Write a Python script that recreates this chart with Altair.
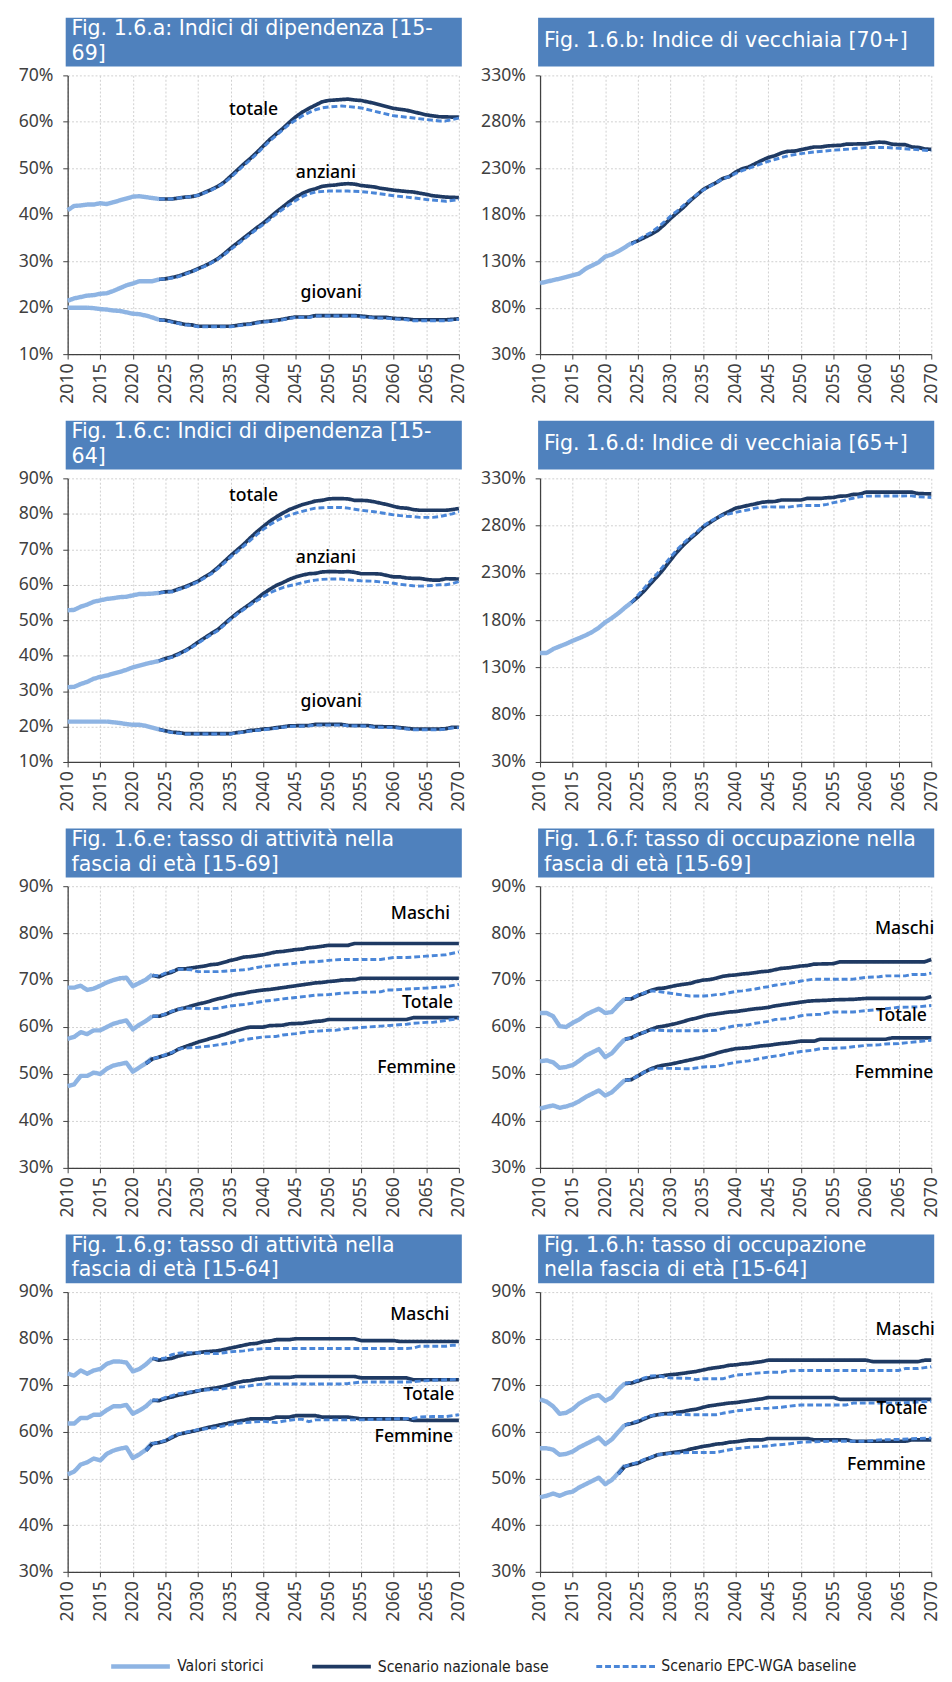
import altair as alt
import pandas as pd

# ---------------------------------------------------------------- constants
SERIES = ["Valori storici", "Scenario nazionale base", "Scenario EPC-WGA baseline"]
COLORS = ["#8EB4E3", "#1F3A63", "#4A86D8"]
WIDTHS = [4.5, 3.0, 2.0]
DASHES = [[1, 0], [1, 0], [6, 3]]
X_TICKS = list(range(2010, 2071, 5))

# ---------------------------------------------------------------- panel a
A_TOT_HIST = [(2010, 41.0), (2011, 41.9), (2012, 42.0), (2013, 42.2), (2014, 42.2), (2015, 42.5), (2016, 42.3), (2017, 42.7), (2018, 43.1), (2019, 43.5), (2020, 43.9), (2021, 44.0), (2022, 43.8), (2023, 43.6), (2024, 43.4)]
A_TOT_NAT = [(2024, 43.4), (2025, 43.4), (2026, 43.4), (2027, 43.6), (2028, 43.8), (2029, 43.9), (2030, 44.2), (2031, 44.8), (2032, 45.4), (2033, 46.1), (2034, 47.0), (2035, 48.3), (2036, 49.6), (2037, 50.9), (2038, 52.1), (2039, 53.4), (2040, 54.8), (2041, 56.2), (2042, 57.4), (2043, 58.6), (2044, 59.9), (2045, 61.1), (2046, 62.1), (2047, 62.9), (2048, 63.6), (2049, 64.3), (2050, 64.6), (2051, 64.7), (2052, 64.8), (2053, 64.9), (2054, 64.7), (2055, 64.6), (2057, 64.0), (2060, 62.9), (2062, 62.5), (2065, 61.5), (2067, 61.1), (2070, 61.0)]
A_TOT_EPC = [(2024, 43.4), (2025, 43.4), (2026, 43.4), (2027, 43.6), (2028, 43.8), (2029, 43.9), (2030, 44.2), (2031, 44.7), (2032, 45.3), (2033, 46.0), (2034, 46.8), (2035, 48.0), (2036, 49.3), (2037, 50.6), (2038, 51.8), (2039, 53.1), (2040, 54.5), (2041, 55.9), (2042, 57.1), (2043, 58.3), (2044, 59.5), (2045, 60.4), (2046, 61.3), (2047, 62.0), (2048, 62.6), (2049, 63.0), (2050, 63.2), (2052, 63.4), (2053, 63.3), (2055, 63.0), (2057, 62.3), (2060, 61.3), (2062, 61.0), (2065, 60.5), (2067, 60.2), (2068, 60.2), (2070, 60.8)]
A_ANZ_HIST = [(2010, 21.5), (2011, 22.0), (2012, 22.3), (2013, 22.6), (2014, 22.7), (2015, 23.0), (2016, 23.1), (2017, 23.6), (2018, 24.2), (2019, 24.8), (2020, 25.2), (2021, 25.7), (2022, 25.7), (2023, 25.7), (2024, 26.1)]
A_ANZ_NAT = [(2024, 26.1), (2025, 26.2), (2026, 26.5), (2027, 26.8), (2028, 27.3), (2029, 27.8), (2030, 28.4), (2031, 29.0), (2032, 29.7), (2033, 30.5), (2034, 31.6), (2035, 32.8), (2036, 33.9), (2037, 35.0), (2038, 36.1), (2039, 37.2), (2040, 38.2), (2041, 39.4), (2042, 40.6), (2043, 41.7), (2044, 42.8), (2045, 43.8), (2046, 44.6), (2047, 45.2), (2048, 45.6), (2049, 46.1), (2050, 46.3), (2051, 46.4), (2052, 46.6), (2053, 46.7), (2054, 46.6), (2055, 46.3), (2057, 46.0), (2058, 45.7), (2060, 45.3), (2062, 45.0), (2063, 44.9), (2065, 44.4), (2066, 44.1), (2068, 43.8), (2070, 43.7)]
A_ANZ_EPC = [(2024, 26.1), (2025, 26.2), (2026, 26.4), (2027, 26.7), (2028, 27.2), (2029, 27.7), (2030, 28.3), (2031, 28.9), (2032, 29.6), (2033, 30.4), (2034, 31.4), (2035, 32.5), (2036, 33.6), (2037, 34.7), (2038, 35.8), (2039, 36.9), (2040, 37.9), (2041, 39.0), (2042, 40.2), (2043, 41.2), (2044, 42.2), (2045, 43.1), (2046, 43.9), (2047, 44.5), (2048, 44.9), (2050, 45.1), (2053, 45.1), (2055, 45.0), (2057, 44.7), (2060, 44.1), (2062, 43.8), (2065, 43.3), (2068, 42.9), (2070, 43.3)]
A_GIO_HIST = [(2010, 20.0), (2011, 20.0), (2012, 20.0), (2013, 20.0), (2014, 19.9), (2015, 19.7), (2016, 19.6), (2017, 19.4), (2018, 19.3), (2019, 19.0), (2020, 18.7), (2021, 18.6), (2022, 18.3), (2023, 17.9), (2024, 17.4)]
A_GIO_NAT = [(2024, 17.4), (2025, 17.3), (2026, 17.0), (2027, 16.7), (2028, 16.4), (2029, 16.3), (2030, 16.0), (2035, 16.0), (2036, 16.2), (2037, 16.4), (2038, 16.5), (2039, 16.8), (2040, 17.0), (2041, 17.1), (2042, 17.3), (2043, 17.5), (2044, 17.8), (2045, 18.0), (2047, 18.0), (2048, 18.3), (2054, 18.3), (2055, 18.2), (2057, 17.9), (2059, 17.9), (2060, 17.7), (2062, 17.6), (2063, 17.4), (2068, 17.4), (2070, 17.6)]
A_GIO_EPC = [(2024, 17.4), (2025, 17.2), (2026, 16.9), (2027, 16.6), (2028, 16.3), (2029, 16.2), (2030, 15.9), (2035, 15.9), (2036, 16.1), (2037, 16.3), (2038, 16.4), (2039, 16.7), (2040, 16.9), (2041, 17.0), (2042, 17.2), (2043, 17.4), (2044, 17.7), (2045, 17.9), (2047, 17.9), (2048, 18.2), (2054, 18.2), (2055, 18.0), (2057, 17.8), (2059, 17.7), (2060, 17.6), (2062, 17.4), (2063, 17.2), (2068, 17.2), (2070, 17.5)]

# ---------------------------------------------------------------- panel b
B_HIST = [(2010, 106.4), (2011, 108.0), (2012, 109.6), (2013, 111.2), (2014, 113.0), (2015, 114.8), (2016, 116.7), (2017, 122.0), (2018, 125.5), (2019, 129.0), (2020, 135.0), (2021, 137.2), (2022, 140.8), (2023, 145.0), (2024, 149.3)]
B_NAT = [(2024, 149.3), (2025, 152.0), (2026, 155.5), (2027, 159.0), (2028, 163.0), (2029, 169.0), (2030, 176.0), (2031, 182.0), (2032, 188.0), (2033, 195.0), (2034, 201.0), (2035, 207.0), (2036, 211.0), (2037, 214.5), (2038, 219.0), (2039, 221.0), (2040, 226.0), (2041, 229.5), (2042, 231.5), (2043, 235.0), (2044, 238.5), (2045, 241.6), (2046, 243.5), (2047, 246.5), (2048, 248.3), (2049, 248.5), (2050, 250.0), (2051, 251.5), (2052, 252.9), (2053, 252.9), (2054, 254.0), (2055, 254.5), (2056, 254.7), (2057, 256.0), (2060, 256.4), (2061, 257.5), (2062, 258.2), (2063, 257.8), (2064, 256.0), (2065, 255.5), (2066, 255.5), (2067, 253.0), (2068, 252.5), (2069, 250.8), (2070, 250.4)]
B_EPC = [(2024, 148.0), (2025, 153.0), (2026, 157.0), (2027, 161.0), (2028, 166.0), (2029, 172.0), (2030, 178.5), (2031, 184.0), (2032, 190.0), (2033, 196.0), (2034, 201.5), (2035, 206.5), (2036, 210.5), (2037, 214.5), (2038, 218.5), (2039, 221.0), (2040, 224.5), (2041, 227.5), (2042, 230.0), (2043, 232.5), (2044, 235.0), (2045, 237.5), (2046, 239.5), (2047, 241.5), (2048, 243.5), (2050, 245.8), (2052, 247.5), (2055, 249.5), (2058, 251.0), (2060, 252.5), (2063, 252.5), (2065, 251.5), (2067, 250.5), (2070, 248.8)]

# ---------------------------------------------------------------- panel c
C_TOT_HIST = [(2010, 52.8), (2011, 52.9), (2012, 53.8), (2013, 54.4), (2014, 55.2), (2015, 55.6), (2016, 56.0), (2017, 56.2), (2018, 56.5), (2019, 56.6), (2020, 57.0), (2021, 57.4), (2022, 57.4), (2023, 57.5), (2024, 57.7)]
C_TOT_NAT = [(2024, 57.7), (2025, 58.0), (2026, 58.1), (2027, 58.8), (2028, 59.4), (2029, 60.2), (2030, 61.0), (2031, 62.2), (2032, 63.3), (2033, 64.8), (2034, 66.5), (2035, 68.2), (2036, 69.8), (2037, 71.4), (2038, 73.2), (2039, 74.9), (2040, 76.4), (2041, 77.9), (2042, 79.1), (2043, 80.2), (2044, 81.2), (2045, 81.9), (2046, 82.6), (2047, 83.1), (2048, 83.6), (2049, 83.8), (2050, 84.2), (2051, 84.3), (2052, 84.3), (2053, 84.2), (2054, 83.8), (2055, 83.8), (2056, 83.7), (2057, 83.4), (2058, 83.0), (2059, 82.6), (2060, 82.1), (2061, 81.7), (2062, 81.6), (2063, 81.2), (2064, 81.0), (2068, 81.0), (2069, 81.2), (2070, 81.5)]
C_TOT_EPC = [(2024, 57.7), (2025, 57.9), (2026, 58.0), (2027, 58.6), (2028, 59.2), (2029, 60.0), (2030, 60.8), (2031, 61.9), (2032, 63.0), (2033, 64.5), (2034, 66.1), (2035, 67.8), (2036, 69.3), (2037, 70.9), (2038, 72.5), (2039, 74.1), (2040, 75.6), (2041, 76.9), (2042, 78.0), (2043, 78.9), (2044, 79.6), (2045, 80.2), (2046, 80.7), (2047, 81.2), (2048, 81.6), (2049, 81.7), (2050, 81.8), (2052, 81.8), (2053, 81.6), (2054, 81.3), (2055, 81.0), (2056, 80.8), (2057, 80.6), (2058, 80.3), (2059, 80.0), (2060, 79.7), (2061, 79.5), (2062, 79.3), (2063, 79.2), (2064, 79.0), (2066, 79.0), (2067, 79.2), (2068, 79.6), (2069, 80.0), (2070, 80.6)]
C_ANZ_HIST = [(2010, 31.1), (2011, 31.2), (2012, 32.0), (2013, 32.6), (2014, 33.5), (2015, 34.0), (2016, 34.4), (2017, 34.9), (2018, 35.4), (2019, 36.0), (2020, 36.7), (2021, 37.2), (2022, 37.7), (2023, 38.1), (2024, 38.5)]
C_ANZ_NAT = [(2024, 38.5), (2025, 39.2), (2026, 39.7), (2027, 40.5), (2028, 41.4), (2029, 42.5), (2030, 43.8), (2031, 45.0), (2032, 46.2), (2033, 47.3), (2034, 48.9), (2035, 50.5), (2036, 52.0), (2037, 53.3), (2038, 54.6), (2039, 56.0), (2040, 57.5), (2041, 58.7), (2042, 59.8), (2043, 60.6), (2044, 61.5), (2045, 62.2), (2046, 62.7), (2047, 63.1), (2048, 63.2), (2049, 63.6), (2050, 63.7), (2051, 63.7), (2052, 63.6), (2053, 63.7), (2054, 63.5), (2055, 63.1), (2057, 63.1), (2058, 63.0), (2059, 62.6), (2060, 62.2), (2061, 62.2), (2062, 61.9), (2063, 61.8), (2064, 61.8), (2065, 61.5), (2066, 61.3), (2067, 61.3), (2068, 61.7), (2070, 61.6)]
C_ANZ_EPC = [(2024, 38.5), (2025, 39.0), (2026, 39.5), (2027, 40.3), (2028, 41.2), (2029, 42.3), (2030, 43.5), (2031, 44.7), (2032, 45.9), (2033, 47.0), (2034, 48.6), (2035, 50.2), (2036, 51.7), (2037, 53.0), (2038, 54.3), (2039, 55.5), (2040, 56.6), (2041, 57.7), (2042, 58.5), (2043, 59.2), (2044, 59.7), (2045, 60.1), (2046, 60.6), (2047, 61.0), (2048, 61.3), (2049, 61.5), (2050, 61.6), (2052, 61.6), (2053, 61.4), (2054, 61.2), (2055, 61.1), (2057, 61.0), (2058, 60.8), (2059, 60.6), (2060, 60.4), (2061, 60.1), (2062, 59.9), (2063, 59.7), (2064, 59.6), (2065, 59.7), (2066, 59.8), (2067, 60.0), (2068, 60.0), (2069, 60.3), (2070, 60.9)]
C_GIO_HIST = [(2010, 21.4), (2011, 21.4), (2012, 21.4), (2013, 21.4), (2014, 21.4), (2015, 21.4), (2016, 21.4), (2017, 21.2), (2018, 21.0), (2019, 20.7), (2020, 20.5), (2021, 20.5), (2022, 20.2), (2023, 19.7), (2024, 19.2)]
C_GIO_NAT = [(2024, 19.2), (2025, 18.8), (2026, 18.4), (2027, 18.3), (2028, 18.0), (2035, 18.0), (2036, 18.3), (2037, 18.5), (2038, 18.9), (2039, 19.0), (2040, 19.3), (2041, 19.4), (2042, 19.7), (2043, 19.9), (2044, 20.2), (2047, 20.3), (2048, 20.6), (2052, 20.6), (2053, 20.3), (2056, 20.3), (2057, 20.0), (2060, 19.9), (2061, 19.7), (2062, 19.5), (2063, 19.3), (2067, 19.3), (2068, 19.4), (2069, 19.8), (2070, 19.8)]
C_GIO_EPC = [(2024, 19.2), (2025, 18.7), (2026, 18.3), (2027, 18.1), (2028, 17.9), (2035, 17.9), (2036, 18.2), (2037, 18.4), (2038, 18.7), (2039, 18.9), (2040, 19.1), (2041, 19.3), (2042, 19.5), (2043, 19.8), (2044, 20.0), (2047, 20.2), (2048, 20.4), (2052, 20.4), (2053, 20.2), (2056, 20.1), (2057, 19.8), (2060, 19.7), (2061, 19.5), (2062, 19.3), (2063, 19.1), (2067, 19.1), (2068, 19.3), (2069, 19.6), (2070, 19.7)]

# ---------------------------------------------------------------- panel d
D_HIST = [(2010, 145.3), (2011, 145.3), (2012, 149.5), (2013, 152.3), (2014, 155.0), (2015, 158.2), (2016, 161.0), (2017, 164.0), (2018, 167.5), (2019, 172.0), (2020, 177.8), (2021, 182.2), (2022, 187.3), (2023, 193.2), (2024, 198.6)]
D_NAT = [(2024, 198.6), (2025, 204.4), (2026, 211.2), (2027, 219.0), (2028, 226.5), (2029, 234.5), (2030, 243.5), (2031, 252.0), (2032, 259.5), (2033, 266.0), (2034, 271.8), (2035, 278.5), (2036, 283.0), (2037, 287.5), (2038, 291.7), (2039, 295.0), (2040, 298.5), (2041, 300.0), (2042, 301.6), (2043, 303.0), (2044, 304.7), (2045, 305.4), (2046, 305.5), (2047, 307.1), (2050, 307.1), (2051, 308.8), (2053, 308.8), (2054, 309.5), (2055, 309.8), (2056, 311.2), (2057, 311.4), (2058, 313.0), (2059, 313.3), (2060, 315.4), (2067, 315.4), (2068, 313.9), (2070, 313.6)]
D_EPC = [(2024, 198.6), (2025, 206.5), (2026, 214.0), (2027, 222.0), (2028, 229.5), (2029, 238.0), (2030, 246.5), (2031, 254.5), (2032, 261.5), (2033, 267.5), (2034, 273.0), (2035, 279.5), (2036, 284.0), (2037, 288.0), (2038, 291.0), (2039, 292.5), (2040, 294.0), (2041, 295.5), (2042, 296.8), (2043, 298.5), (2044, 299.6), (2045, 299.9), (2048, 299.6), (2049, 300.5), (2050, 301.3), (2053, 301.3), (2054, 302.5), (2055, 304.3), (2056, 305.5), (2057, 307.5), (2058, 309.0), (2059, 310.5), (2060, 311.2), (2067, 311.5), (2068, 310.5), (2070, 309.8)]

# ---------------------------------------------------------------- panel e
E_M_HIST = [(2010, 68.4), (2011, 68.4), (2012, 68.8), (2013, 67.9), (2014, 68.2), (2015, 68.8), (2016, 69.5), (2017, 70.0), (2018, 70.4), (2019, 70.5), (2020, 68.7), (2021, 69.4), (2022, 70.1), (2023, 71.2)]
E_M_NAT = [(2023, 71.0), (2024, 70.7), (2025, 71.3), (2026, 71.7), (2027, 72.4), (2028, 72.4), (2029, 72.6), (2030, 72.8), (2031, 73.0), (2032, 73.3), (2033, 73.4), (2034, 73.8), (2035, 74.2), (2036, 74.5), (2037, 74.9), (2038, 75.0), (2039, 75.2), (2040, 75.4), (2041, 75.7), (2042, 76.0), (2043, 76.1), (2044, 76.3), (2045, 76.5), (2046, 76.6), (2047, 76.9), (2048, 77.0), (2049, 77.2), (2050, 77.4), (2053, 77.4), (2054, 77.8), (2070, 77.8)]
E_M_EPC = [(2023, 71.0), (2024, 70.9), (2025, 71.5), (2026, 71.9), (2027, 72.3), (2028, 72.3), (2029, 72.2), (2030, 71.8), (2033, 71.8), (2034, 71.9), (2035, 72.0), (2036, 72.1), (2037, 72.2), (2038, 72.4), (2039, 72.7), (2040, 72.9), (2042, 73.2), (2043, 73.3), (2045, 73.6), (2046, 73.8), (2048, 73.9), (2050, 74.2), (2052, 74.4), (2058, 74.4), (2060, 74.8), (2062, 74.8), (2063, 74.9), (2065, 75.1), (2067, 75.3), (2068, 75.4), (2070, 76.0)]
E_T_HIST = [(2010, 57.5), (2011, 57.9), (2012, 58.9), (2013, 58.5), (2014, 59.3), (2015, 59.3), (2016, 60.0), (2017, 60.7), (2018, 61.1), (2019, 61.4), (2020, 59.5), (2021, 60.5), (2022, 61.3), (2023, 62.3)]
E_T_NAT = [(2023, 62.3), (2024, 62.3), (2025, 62.7), (2026, 63.3), (2027, 63.8), (2028, 64.1), (2029, 64.5), (2030, 64.9), (2031, 65.2), (2032, 65.6), (2033, 66.0), (2034, 66.3), (2035, 66.7), (2036, 67.0), (2037, 67.2), (2038, 67.5), (2039, 67.7), (2040, 67.9), (2041, 68.0), (2042, 68.2), (2043, 68.4), (2044, 68.6), (2045, 68.8), (2046, 69.0), (2047, 69.2), (2048, 69.4), (2049, 69.5), (2050, 69.7), (2051, 69.8), (2052, 70.0), (2054, 70.1), (2055, 70.4), (2070, 70.4)]
E_T_EPC = [(2023, 62.3), (2024, 62.3), (2025, 62.8), (2026, 63.4), (2027, 63.8), (2028, 64.0), (2030, 64.0), (2032, 63.9), (2033, 64.0), (2035, 64.5), (2037, 64.8), (2038, 65.0), (2040, 65.5), (2042, 65.8), (2043, 66.0), (2045, 66.3), (2047, 66.6), (2048, 66.8), (2050, 66.9), (2052, 67.2), (2055, 67.4), (2058, 67.5), (2059, 67.9), (2060, 67.9), (2062, 68.1), (2065, 68.3), (2067, 68.5), (2068, 68.6), (2070, 69.1)]
E_F_HIST = [(2010, 47.4), (2011, 47.8), (2012, 49.6), (2013, 49.6), (2014, 50.3), (2015, 50.0), (2016, 51.1), (2017, 51.8), (2018, 52.1), (2019, 52.4), (2020, 50.5), (2021, 51.4), (2022, 52.3), (2023, 53.4)]
E_F_NAT = [(2022, 52.2), (2023, 53.2), (2024, 53.6), (2025, 54.0), (2026, 54.5), (2027, 55.3), (2028, 55.8), (2029, 56.3), (2030, 56.8), (2031, 57.2), (2032, 57.6), (2033, 58.0), (2034, 58.4), (2035, 58.9), (2036, 59.3), (2037, 59.7), (2038, 60.0), (2040, 60.0), (2041, 60.3), (2043, 60.4), (2044, 60.7), (2046, 60.8), (2047, 61.0), (2048, 61.2), (2049, 61.3), (2050, 61.6), (2062, 61.6), (2063, 62.0), (2070, 62.0)]
E_F_EPC = [(2022, 52.2), (2023, 53.2), (2024, 53.6), (2025, 54.1), (2026, 54.6), (2027, 55.3), (2028, 55.5), (2030, 55.7), (2032, 56.0), (2033, 56.2), (2035, 56.6), (2037, 57.3), (2038, 57.5), (2040, 57.9), (2042, 58.0), (2043, 58.3), (2045, 58.6), (2047, 59.0), (2048, 59.1), (2050, 59.3), (2051, 59.3), (2053, 59.7), (2055, 59.9), (2058, 60.2), (2060, 60.4), (2062, 60.6), (2063, 60.8), (2065, 61.0), (2066, 61.0), (2068, 61.4), (2070, 61.8)]

# ---------------------------------------------------------------- panel f
F_M_HIST = [(2010, 63.0), (2011, 63.0), (2012, 62.3), (2013, 60.2), (2014, 60.0), (2015, 60.9), (2016, 61.6), (2017, 62.6), (2018, 63.3), (2019, 63.9), (2020, 63.0), (2021, 63.2), (2022, 64.7), (2023, 66.0)]
F_M_NAT = [(2023, 66.0), (2024, 66.0), (2025, 66.7), (2026, 67.2), (2027, 67.8), (2028, 68.2), (2029, 68.3), (2030, 68.6), (2031, 68.9), (2032, 69.1), (2033, 69.3), (2034, 69.7), (2035, 70.0), (2036, 70.1), (2037, 70.4), (2038, 70.8), (2039, 71.0), (2040, 71.1), (2041, 71.3), (2042, 71.4), (2043, 71.6), (2044, 71.8), (2045, 71.9), (2046, 72.2), (2047, 72.5), (2048, 72.6), (2049, 72.8), (2050, 73.0), (2051, 73.1), (2052, 73.4), (2055, 73.5), (2056, 73.9), (2069, 73.9), (2070, 74.4)]
F_M_EPC = [(2023, 66.0), (2024, 66.1), (2025, 66.8), (2026, 67.3), (2027, 67.7), (2028, 67.6), (2029, 67.4), (2030, 67.2), (2031, 67.0), (2032, 66.8), (2033, 66.6), (2035, 66.6), (2036, 66.7), (2037, 66.9), (2038, 67.0), (2039, 67.3), (2040, 67.6), (2041, 67.7), (2042, 67.9), (2043, 68.1), (2044, 68.4), (2045, 68.6), (2046, 68.9), (2047, 69.1), (2048, 69.3), (2049, 69.5), (2050, 69.8), (2051, 70.0), (2052, 70.2), (2058, 70.2), (2059, 70.4), (2060, 70.6), (2062, 70.7), (2063, 70.9), (2066, 70.9), (2067, 71.2), (2069, 71.2), (2070, 71.5)]
F_T_HIST = [(2010, 52.7), (2011, 52.9), (2012, 52.5), (2013, 51.3), (2014, 51.5), (2015, 51.9), (2016, 52.8), (2017, 53.9), (2018, 54.6), (2019, 55.3), (2020, 53.6), (2021, 54.4), (2022, 56.0), (2023, 57.4)]
F_T_NAT = [(2023, 57.4), (2024, 57.7), (2025, 58.4), (2026, 58.9), (2027, 59.5), (2028, 60.0), (2029, 60.2), (2030, 60.5), (2031, 60.8), (2032, 61.2), (2033, 61.6), (2034, 61.9), (2035, 62.3), (2036, 62.6), (2037, 62.8), (2038, 63.0), (2039, 63.2), (2040, 63.3), (2041, 63.5), (2042, 63.7), (2043, 63.9), (2044, 64.0), (2045, 64.2), (2046, 64.5), (2047, 64.7), (2048, 64.9), (2049, 65.1), (2050, 65.3), (2051, 65.5), (2052, 65.6), (2054, 65.7), (2055, 65.8), (2058, 65.9), (2060, 66.1), (2069, 66.1), (2070, 66.5)]
F_T_EPC = [(2023, 57.4), (2024, 57.7), (2025, 58.4), (2026, 58.9), (2027, 59.4), (2028, 59.3), (2030, 59.2), (2035, 59.2), (2037, 59.3), (2038, 59.7), (2040, 60.3), (2042, 60.5), (2043, 60.8), (2045, 61.2), (2046, 61.6), (2048, 61.8), (2050, 62.4), (2051, 62.6), (2053, 62.7), (2054, 63.0), (2055, 63.2), (2058, 63.2), (2060, 63.5), (2062, 63.7), (2063, 63.9), (2065, 64.2), (2068, 64.3), (2070, 64.6)]
F_F_HIST = [(2010, 42.6), (2011, 43.0), (2012, 43.3), (2013, 42.8), (2014, 43.1), (2015, 43.5), (2016, 44.2), (2017, 45.1), (2018, 45.8), (2019, 46.5), (2020, 45.4), (2021, 46.1), (2022, 47.4), (2023, 48.7)]
F_F_NAT = [(2023, 48.7), (2024, 48.8), (2025, 49.6), (2026, 50.4), (2027, 51.1), (2028, 51.6), (2029, 51.9), (2030, 52.1), (2031, 52.4), (2032, 52.7), (2033, 53.0), (2034, 53.3), (2035, 53.6), (2036, 54.0), (2037, 54.4), (2038, 54.8), (2039, 55.1), (2040, 55.4), (2041, 55.5), (2042, 55.6), (2043, 55.8), (2044, 56.0), (2045, 56.1), (2046, 56.3), (2047, 56.5), (2048, 56.6), (2049, 56.8), (2050, 57.0), (2052, 57.0), (2053, 57.4), (2063, 57.4), (2064, 57.7), (2070, 57.7)]
F_F_EPC = [(2023, 48.7), (2024, 48.8), (2025, 49.6), (2026, 50.4), (2027, 51.0), (2028, 51.2), (2030, 51.2), (2033, 51.1), (2035, 51.5), (2037, 51.6), (2038, 51.9), (2040, 52.5), (2042, 52.8), (2043, 53.1), (2045, 53.6), (2047, 54.0), (2048, 54.3), (2050, 54.8), (2052, 55.1), (2053, 55.4), (2055, 55.5), (2057, 55.6), (2058, 55.8), (2060, 56.1), (2062, 56.2), (2063, 56.4), (2065, 56.5), (2068, 56.9), (2070, 57.2)]

# ---------------------------------------------------------------- panel g
G_M_HIST = [(2010, 72.5), (2011, 72.1), (2012, 73.2), (2013, 72.5), (2014, 73.2), (2015, 73.5), (2016, 74.6), (2017, 75.1), (2018, 75.1), (2019, 74.9), (2020, 73.0), (2021, 73.5), (2022, 74.5), (2023, 75.8)]
G_M_NAT = [(2023, 75.8), (2024, 75.4), (2025, 75.6), (2026, 75.8), (2027, 76.3), (2028, 76.6), (2029, 76.8), (2030, 77.0), (2031, 77.2), (2032, 77.3), (2033, 77.4), (2034, 77.7), (2035, 78.0), (2036, 78.3), (2037, 78.6), (2038, 78.9), (2039, 79.0), (2040, 79.4), (2041, 79.5), (2042, 79.8), (2044, 79.8), (2045, 80.0), (2054, 80.0), (2055, 79.6), (2060, 79.6), (2061, 79.4), (2070, 79.4)]
G_M_EPC = [(2023, 75.8), (2024, 75.6), (2025, 75.9), (2026, 76.6), (2027, 76.9), (2028, 77.0), (2030, 77.0), (2031, 76.9), (2033, 76.8), (2034, 77.0), (2035, 77.2), (2037, 77.4), (2038, 77.6), (2040, 77.9), (2062, 77.9), (2063, 78.0), (2064, 78.4), (2068, 78.4), (2069, 78.6), (2070, 78.6)]
G_T_HIST = [(2010, 61.8), (2011, 61.8), (2012, 63.0), (2013, 63.0), (2014, 63.7), (2015, 63.7), (2016, 64.7), (2017, 65.5), (2018, 65.5), (2019, 65.8), (2020, 63.9), (2021, 64.6), (2022, 65.5), (2023, 66.8)]
G_T_NAT = [(2023, 66.8), (2024, 66.7), (2025, 67.2), (2026, 67.5), (2027, 67.9), (2028, 68.2), (2029, 68.5), (2030, 68.8), (2031, 69.1), (2032, 69.3), (2033, 69.5), (2034, 69.8), (2035, 70.2), (2036, 70.6), (2037, 70.9), (2038, 71.0), (2039, 71.3), (2040, 71.4), (2041, 71.7), (2044, 71.7), (2045, 71.9), (2054, 71.9), (2055, 71.6), (2062, 71.6), (2063, 71.2), (2070, 71.2)]
G_T_EPC = [(2023, 66.8), (2024, 66.9), (2025, 67.4), (2026, 67.8), (2027, 68.2), (2028, 68.4), (2030, 68.9), (2031, 69.0), (2033, 69.1), (2035, 69.5), (2037, 69.7), (2038, 69.9), (2040, 70.3), (2052, 70.3), (2053, 70.4), (2055, 70.7), (2062, 70.7), (2064, 70.9), (2066, 71.1), (2068, 71.2), (2070, 71.3)]
G_F_HIST = [(2010, 50.9), (2011, 51.5), (2012, 53.0), (2013, 53.5), (2014, 54.3), (2015, 53.9), (2016, 55.3), (2017, 56.0), (2018, 56.4), (2019, 56.7), (2020, 54.4), (2021, 55.2), (2022, 56.2), (2023, 57.7)]
G_F_NAT = [(2022, 56.0), (2023, 57.5), (2024, 57.7), (2025, 58.1), (2026, 58.8), (2027, 59.5), (2028, 59.8), (2029, 60.1), (2030, 60.4), (2031, 60.8), (2032, 61.1), (2033, 61.4), (2034, 61.7), (2035, 62.0), (2036, 62.3), (2037, 62.5), (2038, 62.8), (2041, 62.8), (2042, 63.2), (2044, 63.2), (2045, 63.5), (2048, 63.5), (2049, 63.2), (2053, 63.2), (2054, 63.0), (2055, 62.8), (2062, 62.8), (2063, 62.5), (2070, 62.5)]
G_F_EPC = [(2022, 56.0), (2023, 57.5), (2024, 57.8), (2025, 58.2), (2026, 59.0), (2027, 59.6), (2028, 59.9), (2030, 60.5), (2032, 60.8), (2033, 61.0), (2035, 61.6), (2037, 62.0), (2038, 62.1), (2040, 62.3), (2042, 62.0), (2043, 62.3), (2045, 62.7), (2046, 62.7), (2047, 62.2), (2048, 62.6), (2055, 62.6), (2060, 62.8), (2063, 62.9), (2064, 63.2), (2066, 63.3), (2068, 63.3), (2069, 63.5), (2070, 63.7)]

# ---------------------------------------------------------------- panel h
H_M_HIST = [(2010, 67.0), (2011, 66.5), (2012, 65.5), (2013, 63.9), (2014, 64.1), (2015, 64.9), (2016, 66.1), (2017, 66.9), (2018, 67.6), (2019, 67.9), (2020, 66.7), (2021, 67.4), (2022, 69.1), (2023, 70.4)]
H_M_NAT = [(2023, 70.4), (2024, 70.5), (2025, 70.9), (2026, 71.4), (2027, 71.7), (2028, 71.9), (2029, 72.1), (2030, 72.3), (2031, 72.4), (2032, 72.6), (2033, 72.8), (2034, 73.0), (2035, 73.3), (2036, 73.6), (2037, 73.8), (2038, 74.0), (2039, 74.3), (2040, 74.4), (2041, 74.6), (2042, 74.7), (2043, 74.9), (2044, 75.1), (2045, 75.4), (2060, 75.4), (2061, 75.1), (2068, 75.1), (2069, 75.4), (2070, 75.4)]
H_M_EPC = [(2023, 70.4), (2024, 70.6), (2025, 71.1), (2026, 71.6), (2027, 72.0), (2028, 72.1), (2029, 71.8), (2030, 71.6), (2033, 71.5), (2034, 71.2), (2035, 71.4), (2038, 71.4), (2039, 71.8), (2040, 72.2), (2042, 72.4), (2043, 72.6), (2045, 72.8), (2047, 72.8), (2048, 73.1), (2050, 73.2), (2065, 73.2), (2066, 73.6), (2068, 73.6), (2069, 73.8), (2070, 74.0)]
H_T_HIST = [(2010, 56.5), (2011, 56.5), (2012, 56.2), (2013, 55.1), (2014, 55.3), (2015, 55.8), (2016, 56.7), (2017, 57.4), (2018, 58.1), (2019, 58.8), (2020, 57.4), (2021, 58.4), (2022, 60.0), (2023, 61.5)]
H_T_NAT = [(2023, 61.5), (2024, 61.8), (2025, 62.2), (2026, 62.8), (2027, 63.4), (2028, 63.7), (2029, 63.9), (2030, 64.0), (2031, 64.2), (2032, 64.4), (2033, 64.7), (2034, 64.9), (2035, 65.3), (2036, 65.6), (2037, 65.8), (2038, 66.0), (2039, 66.2), (2040, 66.3), (2041, 66.5), (2042, 66.7), (2043, 66.9), (2044, 67.1), (2045, 67.4), (2055, 67.4), (2056, 67.0), (2070, 67.0)]
H_T_EPC = [(2023, 61.5), (2024, 61.9), (2025, 62.4), (2026, 63.0), (2027, 63.5), (2028, 63.7), (2030, 63.8), (2033, 63.7), (2037, 63.7), (2038, 64.0), (2040, 64.5), (2042, 64.8), (2043, 65.0), (2045, 65.1), (2047, 65.3), (2048, 65.5), (2050, 65.8), (2057, 65.8), (2058, 66.2), (2065, 66.2), (2070, 66.6)]
H_F_HIST = [(2010, 46.0), (2011, 46.3), (2012, 46.8), (2013, 46.3), (2014, 46.9), (2015, 47.2), (2016, 48.1), (2017, 48.8), (2018, 49.5), (2019, 50.2), (2020, 48.8), (2021, 49.7), (2022, 51.2), (2023, 52.8)]
H_F_NAT = [(2022, 51.0), (2023, 52.6), (2024, 53.0), (2025, 53.3), (2026, 54.0), (2027, 54.5), (2028, 55.1), (2029, 55.3), (2030, 55.5), (2031, 55.7), (2032, 55.9), (2033, 56.3), (2034, 56.6), (2035, 56.9), (2036, 57.1), (2037, 57.4), (2038, 57.5), (2039, 57.8), (2040, 57.9), (2041, 58.1), (2042, 58.3), (2044, 58.3), (2045, 58.6), (2051, 58.6), (2052, 58.3), (2057, 58.3), (2058, 58.0), (2066, 58.0), (2067, 58.3), (2070, 58.3)]
H_F_EPC = [(2022, 51.0), (2023, 52.6), (2024, 53.1), (2025, 53.5), (2026, 54.1), (2027, 54.6), (2028, 55.1), (2030, 55.4), (2033, 55.6), (2037, 55.6), (2038, 55.9), (2040, 56.4), (2042, 56.7), (2043, 56.8), (2045, 57.0), (2046, 57.2), (2048, 57.4), (2050, 57.8), (2052, 57.9), (2055, 58.0), (2060, 58.0), (2062, 58.3), (2065, 58.4), (2068, 58.6), (2070, 58.7)]

# ---------------------------------------------------------------- panels
TITLES = {
    "a": "Fig. 1.6.a: Indici di dipendenza [15-\n69]",
    "b": "Fig. 1.6.b: Indice di vecchiaia [70+]",
    "c": "Fig. 1.6.c: Indici di dipendenza [15-\n64]",
    "d": "Fig. 1.6.d: Indice di vecchiaia [65+]",
    "e": "Fig. 1.6.e: tasso di attività nella\nfascia di età [15-69]",
    "f": "Fig. 1.6.f: tasso di occupazione nella\nfascia di età [15-69]",
    "g": "Fig. 1.6.g: tasso di attività nella\nfascia di età [15-64]",
    "h": "Fig. 1.6.h: tasso di occupazione\nnella fascia di età [15-64]",
}
Y_DOMAINS = {"a": (10, 70, 10), "b": (30, 330, 50), "c": (10, 90, 10), "d": (30, 330, 50),
             "e": (30, 90, 10), "f": (30, 90, 10), "g": (30, 90, 10), "h": (30, 90, 10)}
GROUPS = {
    "a": {"totale": (A_TOT_HIST, A_TOT_NAT, A_TOT_EPC), "anziani": (A_ANZ_HIST, A_ANZ_NAT, A_ANZ_EPC), "giovani": (A_GIO_HIST, A_GIO_NAT, A_GIO_EPC)},
    "b": {"totale": (B_HIST, B_NAT, B_EPC)},
    "c": {"totale": (C_TOT_HIST, C_TOT_NAT, C_TOT_EPC), "anziani": (C_ANZ_HIST, C_ANZ_NAT, C_ANZ_EPC), "giovani": (C_GIO_HIST, C_GIO_NAT, C_GIO_EPC)},
    "d": {"totale": (D_HIST, D_NAT, D_EPC)},
    "e": {"M": (E_M_HIST, E_M_NAT, E_M_EPC), "T": (E_T_HIST, E_T_NAT, E_T_EPC), "F": (E_F_HIST, E_F_NAT, E_F_EPC)},
    "f": {"M": (F_M_HIST, F_M_NAT, F_M_EPC), "T": (F_T_HIST, F_T_NAT, F_T_EPC), "F": (F_F_HIST, F_F_NAT, F_F_EPC)},
    "g": {"M": (G_M_HIST, G_M_NAT, G_M_EPC), "T": (G_T_HIST, G_T_NAT, G_T_EPC), "F": (G_F_HIST, G_F_NAT, G_F_EPC)},
    "h": {"M": (H_M_HIST, H_M_NAT, H_M_EPC), "T": (H_T_HIST, H_T_NAT, H_T_EPC), "F": (H_F_HIST, H_F_NAT, H_F_EPC)},
}
LABELS = [
    ("a", "totale", 2038.5, 62.5), ("a", "anziani", 2049.6, 48.9), ("a", "giovani", 2050.4, 23.1),
    ("c", "totale", 2038.5, 85.0), ("c", "anziani", 2049.6, 67.5), ("c", "giovani", 2050.4, 27.0),
    ("e", "Maschi", 2064.1, 84.0), ("e", "Totale", 2065.2, 65.1), ("e", "Femmine", 2063.5, 51.2),
    ("f", "Maschi", 2065.9, 80.9), ("f", "Totale", 2065.4, 62.4), ("f", "Femmine", 2064.3, 50.2),
    ("g", "Maschi", 2064.0, 85.0), ("g", "Totale", 2065.4, 67.9), ("g", "Femmine", 2063.1, 59.0),
    ("h", "Maschi", 2066.0, 81.9), ("h", "Totale", 2065.5, 64.9), ("h", "Femmine", 2063.1, 52.9),
]
ROW_HEIGHTS = {"a": 285, "b": 285, "c": 290, "d": 290, "e": 288, "f": 288, "g": 286, "h": 286}
PANEL_W = 400

# ---------------------------------------------------------------- tables
rows = []
for pk, groups in GROUPS.items():
    for gname, triple in groups.items():
        for sname, pts in zip(SERIES, triple):
            for yr, val in pts:
                rows.append({"panel": pk, "group": gname, "serie": sname, "year": yr, "value": val})
df = pd.DataFrame(rows)
lab_df = pd.DataFrame(LABELS, columns=["panel", "text", "year", "value"])
title_df = pd.DataFrame({"panel": list(TITLES.keys()), "title": list(TITLES.values())})

legend = alt.Legend(title=None, orient="none", legendX=42, legendY=1594, direction="horizontal",
                    symbolType="stroke", symbolSize=3600,
                    labelFont="Liberation Sans Narrow, DejaVu Sans Condensed, Roboto Condensed, Roboto",
                    labelFontSize=16, labelColor="#222222", columnPadding=41, labelOffset=5,
                    labelLimit=400)


def make_panel(pk):
    lo, hi, step = Y_DOMAINS[pk]
    h = ROW_HEIGHTS[pk]
    w = PANEL_W
    x = alt.X("year:Q", title=None,
              scale=alt.Scale(domain=[2010, 2070], nice=False, zero=False),
              axis=alt.Axis(values=X_TICKS, format="d", labelAngle=-90, labelPadding=4,
                            labelOverlap=False, grid=True))
    y = alt.Y("value:Q", title=None,
              scale=alt.Scale(domain=[lo, hi], nice=False, zero=False),
              axis=alt.Axis(values=list(range(lo, hi + 1, step)), labelExpr="datum.value + '%'",
                            labelPadding=10, labelOverlap=False, grid=True))
    color = alt.Color("serie:N", scale=alt.Scale(domain=SERIES, range=COLORS), legend=legend)
    dash = alt.StrokeDash("serie:N", scale=alt.Scale(domain=SERIES, range=DASHES), legend=legend)
    sw = alt.StrokeWidth("serie:N", scale=alt.Scale(domain=SERIES, range=WIDTHS), legend=legend)

    base = alt.Chart(df).transform_filter(alt.datum.panel == pk)
    layers = []
    for s in SERIES:
        layers.append(
            base.transform_filter(alt.datum.serie == s)
            .mark_line(strokeJoin="round")
            .encode(x=x, y=y, color=color, strokeDash=dash, strokeWidth=sw, detail="group:N")
        )
    two_lines = "\n" in TITLES[pk]
    tbase = alt.Chart(title_df).transform_filter(alt.datum.panel == pk)
    box = tbase.mark_rect(color="#4F81BD").encode(
        x=alt.value(-2), x2=alt.value(w + 3), y=alt.value(-59), y2=alt.value(-9))
    ttext = tbase.mark_text(align="left", baseline="top", font="DejaVu Sans", fontSize=21,
                            color="white", lineBreak="\n", lineHeight=25).encode(
        x=alt.value(4), y=alt.value(-58 if two_lines else -46), text="title:N")
    lab = alt.Chart(lab_df).transform_filter(alt.datum.panel == pk).mark_text(
        font="Noto Sans", fontSize=18, fontWeight=500, color="#000000").encode(
        x=x, y=y, text="text:N")
    parts = [box, ttext] + layers
    if pk in set(lab_df["panel"]):
        parts.append(lab)
    return alt.layer(*parts).properties(width=w, height=h)


panels = [make_panel(k) for k in "abcdefgh"]
chart = alt.concat(*panels, columns=2, spacing={"row": 127, "column": 83},
                   bounds="flush", align="each").properties(
    padding={"left": 10, "top": -9, "right": 4, "bottom": 0}
).resolve_scale(color="shared", strokeDash="shared", strokeWidth="shared").configure_view(
    strokeWidth=0
).configure_axis(
    labelFont="Noto Sans", labelFontSize=18, labelColor="#404040",
    domainColor="#404040", domainWidth=1.3, tickColor="#404040", tickSize=5,
    gridColor="#cfcfcf", gridDash=[2, 2], gridWidth=1
)

chart.save("out.html", embed_options={"renderer": "svg", "actions": False})
